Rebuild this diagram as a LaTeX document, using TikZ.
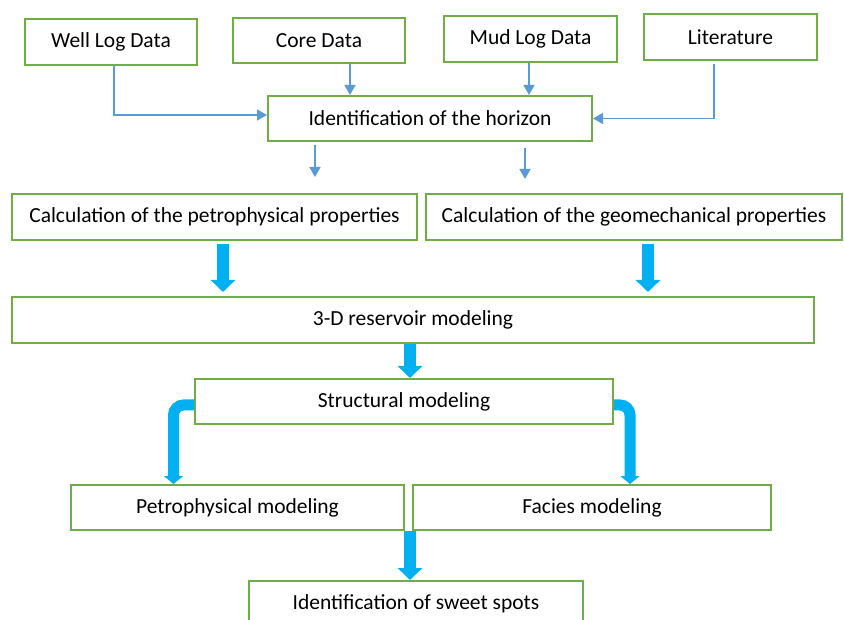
\documentclass[tikz,border=0pt]{standalone}
\usepackage{fontspec}
\setmainfont{Carlito}
\usepackage{tikz}
\usetikzlibrary{calc}
\usetikzlibrary{arrows.meta}
\definecolor{boxgreen}{HTML}{70AD47}
\definecolor{thinblue}{HTML}{5B9BD5}
\definecolor{thickblue}{HTML}{00B0F0}
\tikzset{%
  mybox/.style={rectangle, draw=boxgreen, line width=2pt, fill=white, inner sep=0pt, font=\fontsize{21.5}{26}\selectfont},
  myedge/.style={-{Triangle[width=11pt,length=10pt]}, draw=thinblue, line width=1.7pt},
  mybigedge/.style={-{Triangle[width=24pt,length=12pt]}, draw=thickblue, line width=12pt},
  mybendedge/.style={-{Triangle[width=19pt,length=8pt]}, draw=thickblue, line width=11pt, rounded corners=10pt}
}
\begin{document}
\begin{tikzpicture}[x=1pt, y=-1pt]
\useasboundingbox (0,0) rectangle (844,620);

% data sources
\node[mybox, minimum width=172pt, minimum height=46pt] (well) at (111,42) {Well Log Data};
\node[mybox, minimum width=172pt, minimum height=45pt] (core) at (319,40.5) {Core Data};
\node[mybox, minimum width=173pt, minimum height=46pt] (mud) at (530.5,39) {Mud Log Data};
\node[mybox, minimum width=173pt, minimum height=46pt] (lit) at (730.5,37) {Literature};

\node[mybox, minimum width=324pt, minimum height=45pt] (horizon) at (430,118.5) {Identification of the horizon};

\node[mybox, minimum width=405pt, minimum height=46pt] (calcpetro) at (214.5,217) {Calculation of the petrophysical properties};
\node[mybox, minimum width=416pt, minimum height=46pt] (calcgeo) at (634,217) {Calculation of the geomechanical properties};

\node[mybox, minimum width=802pt, minimum height=46pt] (res3d) at (413,320) {3-D reservoir modeling};
\node[mybox, minimum width=418pt, minimum height=45pt] (struct) at (404,401.5) {Structural modeling};

\node[mybox, minimum width=333pt, minimum height=45pt] (petromod) at (237.5,507.5) {Petrophysical modeling};
\node[mybox, minimum width=358pt, minimum height=45pt] (facies) at (592,507.5) {Facies modeling};
\node[mybox, minimum width=334pt, minimum height=45pt] (sweet) at (416,603.5) {Identification of sweet spots};

% thin arrows
\draw[myedge] ([xshift=3pt]well.south) |- ([yshift=3.5pt]horizon.west);
\draw[myedge] ([xshift=31pt]core.south) -- ([xshift=31pt]core.south |- horizon.north);
\draw[myedge] ([xshift=-1.5pt]mud.south) -- ([xshift=-1.5pt]mud.south |- horizon.north);
\draw[myedge] ([xshift=-16.5pt,yshift=-3pt]lit.south) |- (horizon.east);
\draw[myedge, shorten <=3pt, shorten >=16pt] ([xshift=-115pt]horizon.south) -- ([xshift=-115pt]horizon.south |- calcpetro.north);
\draw[myedge, shorten <=6pt, shorten >=14pt] ([xshift=95pt]horizon.south) -- ([xshift=95pt]horizon.south |- calcgeo.north);

% thick arrows
\draw[mybigedge, shorten <=3pt, shorten >=4pt] ([xshift=8.5pt]calcpetro.south) -- ([xshift=8.5pt]calcpetro.south |- res3d.north);
\draw[mybigedge, shorten <=3pt, shorten >=4pt] ([xshift=14pt]calcgeo.south) -- ([xshift=14pt]calcgeo.south |- res3d.north);
\draw[mybigedge] ([xshift=6pt]struct.north |- res3d.south) -- ([xshift=6pt]struct.north);
\draw[mybendedge] ([yshift=-3.5pt]struct.west) -| ([xshift=-64pt]petromod.north);
\draw[mybendedge] ([yshift=-3.5pt]struct.east) -| ([xshift=38pt]facies.north);
\draw[mybigedge] ([xshift=-6pt]sweet.north |- petromod.south) -- ([xshift=-6pt]sweet.north);

\end{tikzpicture}
\end{document}
